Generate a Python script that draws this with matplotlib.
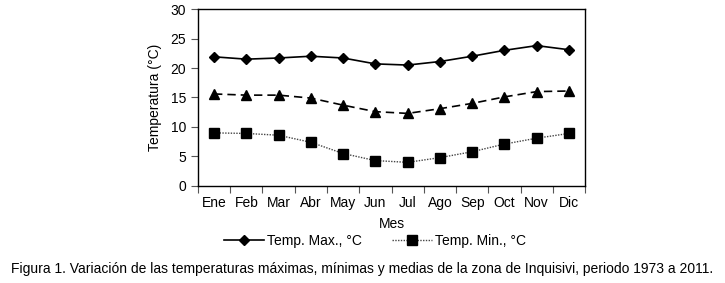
import matplotlib
matplotlib.use("Agg")
import matplotlib.pyplot as plt
import numpy as np

plt.rcParams['font.family'] = ['Liberation Sans', 'DejaVu Sans']

meses = ["Ene", "Feb", "Mar", "Abr", "May", "Jun", "Jul", "Ago", "Sep", "Oct", "Nov", "Dic"]
temp_max = [21.9, 21.5, 21.7, 22.0, 21.7, 20.7, 20.5, 21.1, 22.0, 23.0, 23.8, 23.1]
temp_med = [15.6, 15.4, 15.4, 14.9, 13.7, 12.6, 12.3, 13.1, 14.0, 15.1, 16.0, 16.1]
temp_min = [9.0, 8.9, 8.6, 7.4, 5.5, 4.3, 4.0, 4.8, 5.8, 7.1, 8.1, 8.9]

fig = plt.figure(figsize=(7.25, 2.83), dpi=100)
ax = fig.add_axes([0.273, 0.343, 0.534, 0.625])

x = np.arange(len(meses))
l_max, = ax.plot(x, temp_max, color="black", lw=1.2, marker="D", ms=5,
                 label="Temp. Max., °C")
ax.plot(x, temp_med, color="black", lw=1.2, ls=(0, (5, 3)), marker="^", ms=7)
l_min, = ax.plot(x, temp_min, color="#444444", lw=1.0, ls=(0, (1, 1)), marker="s",
                 ms=7, mfc="black", mec="black", label="Temp. Min., °C")

ax.set_xlim(-0.5, len(meses) - 0.5)
ax.set_ylim(0, 30)
ax.set_yticks(range(0, 31, 5))
ax.set_xticks(np.arange(-0.5, len(meses), 1.0))
ax.set_xticklabels([])
ax.set_xticks(x, minor=True)
ax.set_xticklabels(meses, minor=True)
ax.tick_params(axis="x", which="minor", length=0, pad=7, labelsize=10)
ax.tick_params(axis="x", which="major", length=5, width=0.8, color="#555555")
ax.tick_params(axis="y", length=5, width=0.8, labelsize=10, color="#555555")
for s in ax.spines.values():
    s.set_linewidth(1.0)

ax.set_xlabel("Mes", fontsize=10, labelpad=5)
ax.set_ylabel("Temperatura (°C)", fontsize=10, labelpad=6)

fig.legend(handles=[l_max, l_min], loc="center", bbox_to_anchor=(0.517, 0.148),
           ncol=2, frameon=False, fontsize=10, handlelength=2.9,
           columnspacing=2.2, handletextpad=0.2)

fig.text(0.5, 0.05, "Figura 1. Variación de las temperaturas máximas, mínimas y medias "
         "de la zona de Inquisivi, periodo 1973 a 2011.", ha="center", va="center",
         fontsize=10)

fig.savefig("out.png", dpi=100)
